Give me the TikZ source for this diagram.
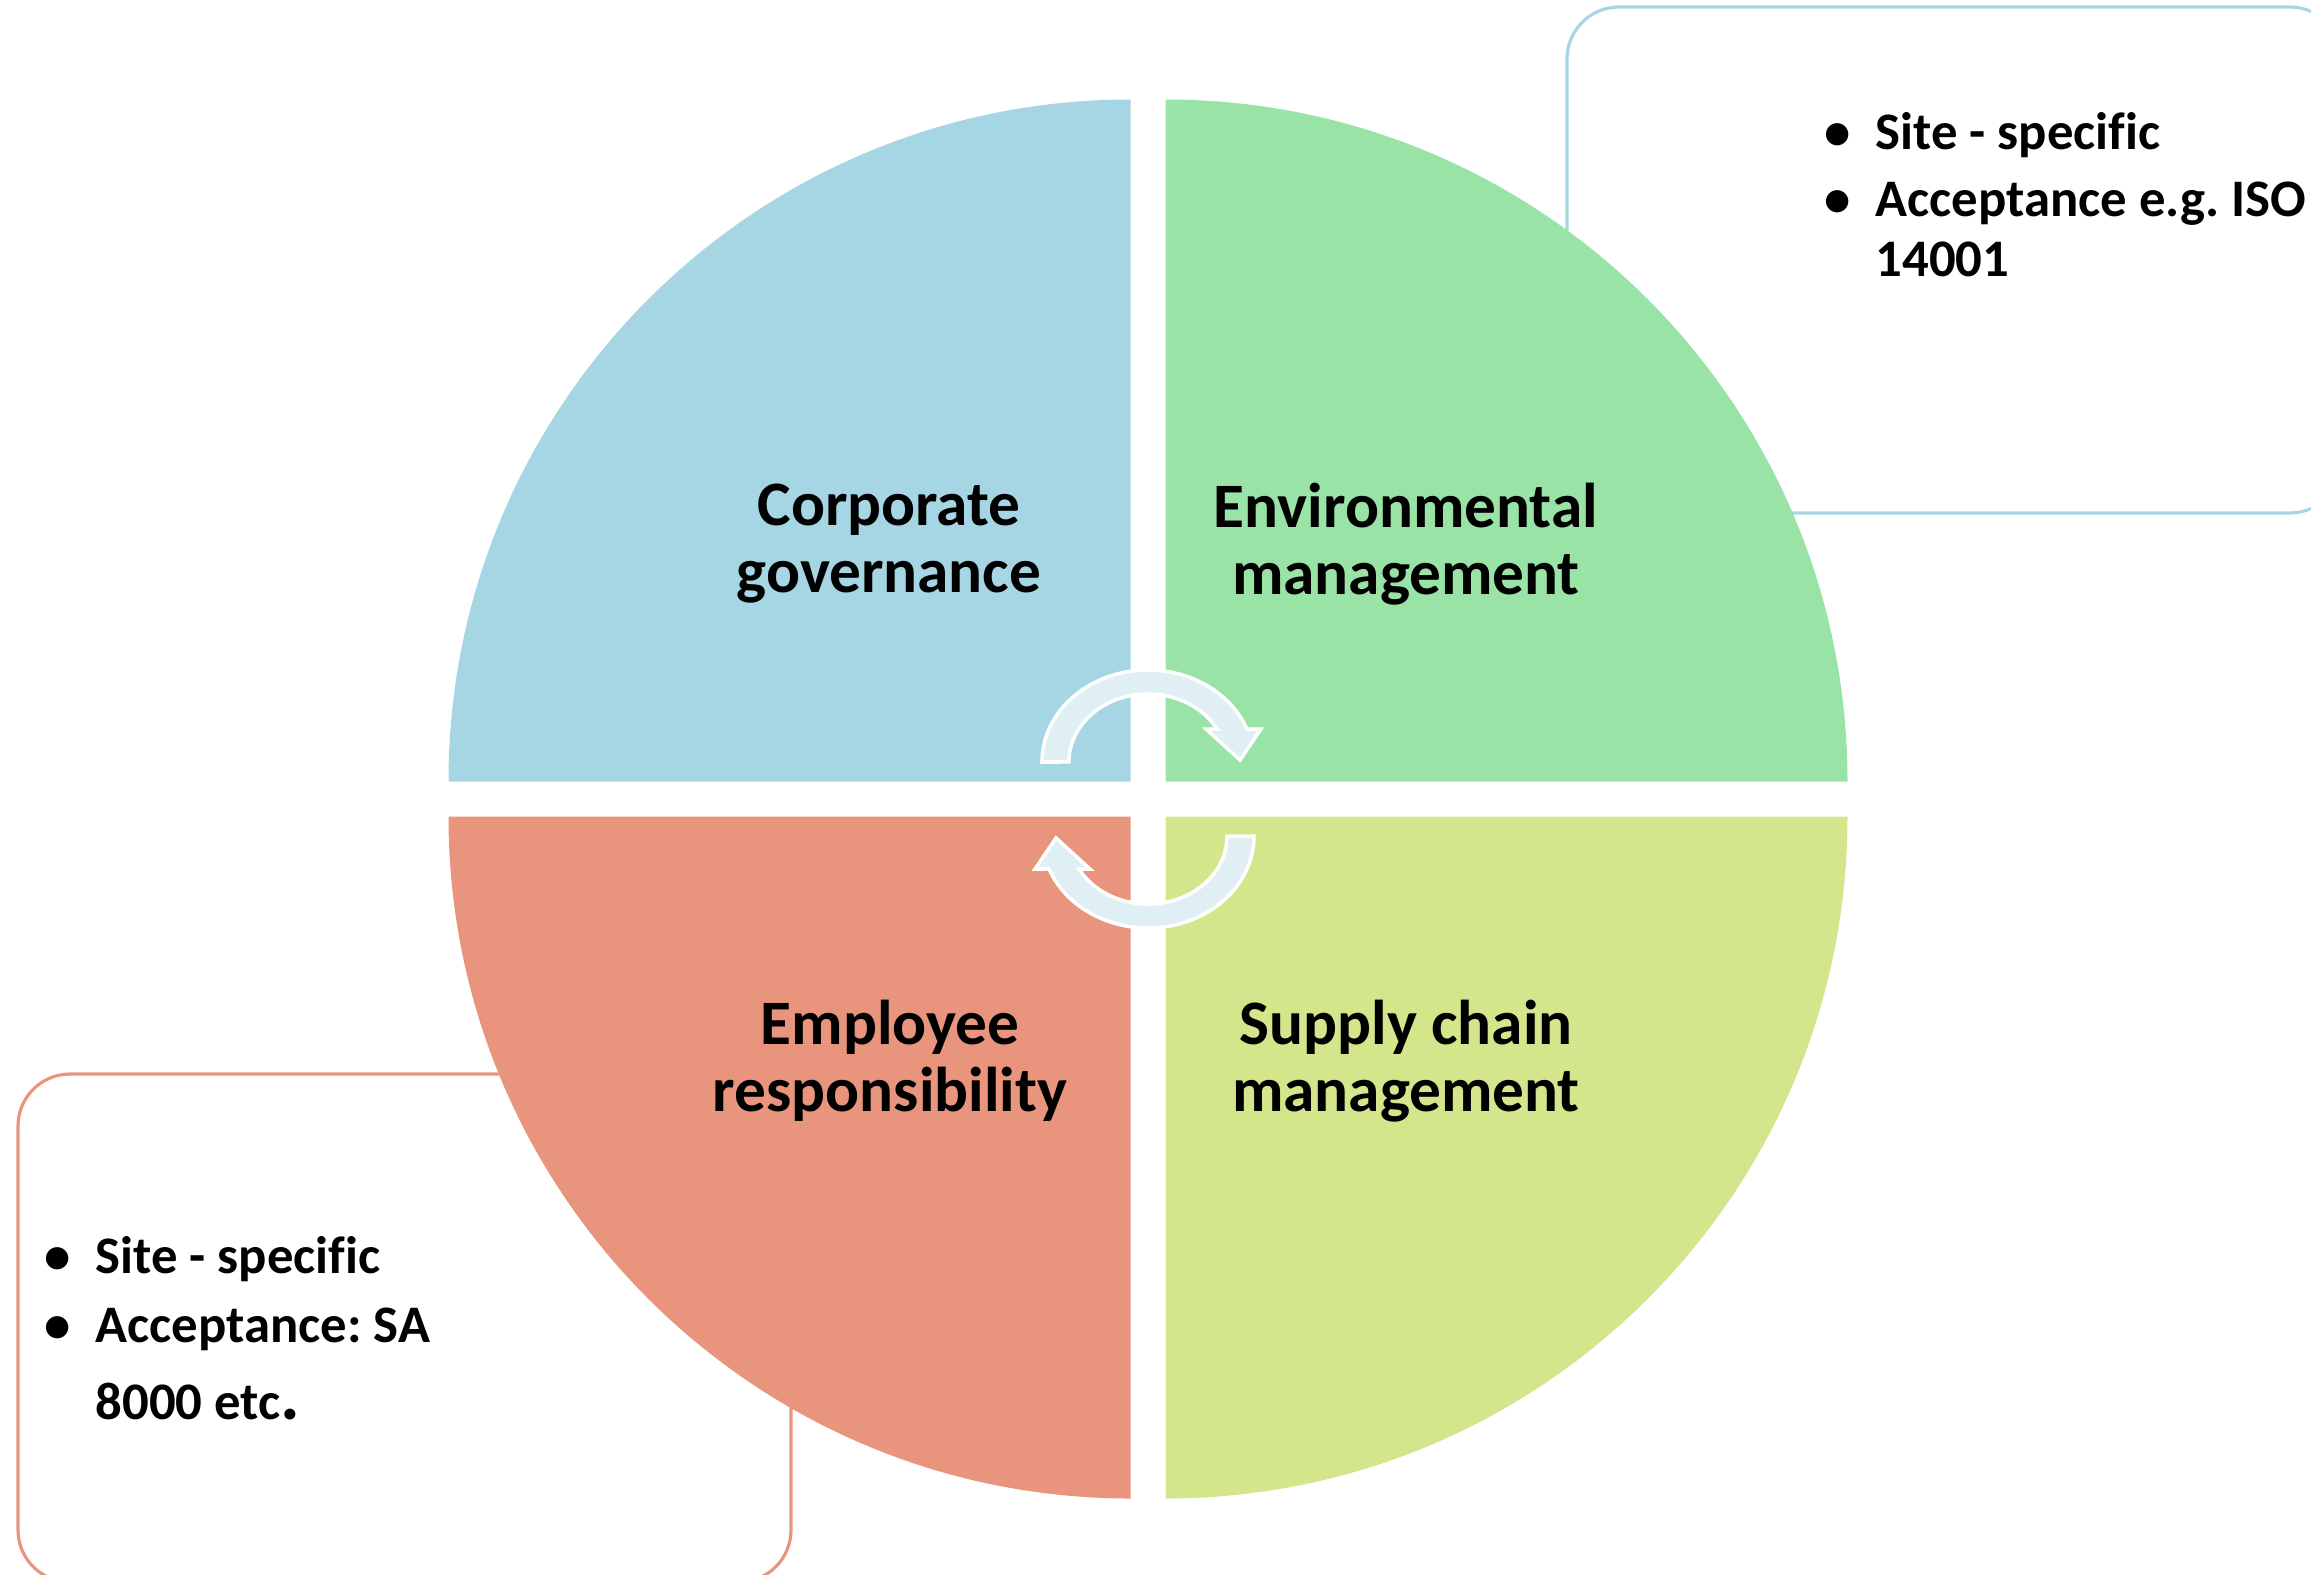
\documentclass[tikz,border=0pt]{standalone}
\usepackage{fontspec}
\setmainfont{Carlito}[Ligatures=NoCommon]
\usetikzlibrary{calc}
\frenchspacing
\definecolor{govblue}{RGB}{166,214,227}
\definecolor{envgreen}{RGB}{153,227,167}
\definecolor{empsalmon}{RGB}{233,149,125}
\definecolor{supgreen}{RGB}{212,230,139}
\definecolor{swirlfill}{RGB}{224,239,244}
\tikzset{
  caption/.style={font=\fontsize{18}{19}\selectfont\bfseries,align=center,inner sep=0},
  point/.style={font=\fontsize{15}{18}\selectfont\bfseries,anchor=base west,inner sep=0},
  dot/.style={font=\fontsize{15}{18}\selectfont\bfseries,anchor=base,inner sep=0},
  note/.style={rounded corners=0.52cm,line width=0.9pt},
  swirl/.style={fill=swirlfill,draw=white,line width=1pt}
}
\begin{document}
\begin{tikzpicture}[x=0.01cm,y=0.01cm]
  \useasboundingbox (0,0) rectangle (2311,-1575);
  \draw[note,draw=govblue] (1567,-7) rectangle (2342,-513);
  \draw[note,draw=empsalmon] (18,-1074) rectangle (791,-1582);
  \coordinate (hub) at (1148,-799);
  \foreach \a/\col [evaluate=\a as \diag using \a+45] in {0/envgreen,90/govblue,180/empsalmon,270/supgreen}
    \fill[\col] ($(hub)+(\diag:24.75)$) -- ++(\a:682) arc[start angle=\a,end angle=\a+90,radius=682] -- cycle;
  \foreach \r in {0,180}
    \draw[swirl,rotate around={\r:(hub)}] (1042,-762) arc[start angle=180,end angle=21,x radius=106,y radius=92]
      -- (1261,-729) -- (1240,-760) -- (1206,-729) -- (1217,-729)
      arc[start angle=29,end angle=180,x radius=79,y radius=68] -- cycle;
  \node[caption] (gov) at (889,-544) {Corporate\\governance};
  \node[caption] (env) at (1406,-544) {Environmental\\management};
  \node[caption] (emp) at (890,-1061) {Employee\\responsibility};
  \node[caption] (sup) at (1406,-1061) {Supply chain\\management};
  \node[point] (isoa) at (1875,-149) {Site - specific};
  \node[point] (isob) at (1875,-216) {Acceptance e.g. ISO};
  \node[point] (isoc) at (1875,-276) {14001};
  \node[dot] (isoadot) at (1838,-149) {•};
  \node[dot] (isobdot) at (1838,-216) {•};
  \node[point] (saa) at (95,-1273) {Site - specific};
  \node[point] (sab) at (95,-1342) {Acceptance: SA};
  \node[point] (sac) at (95,-1419) {8000 etc{\fontsize{21}{21}\selectfont.}};
  \node[dot] (saadot) at (58,-1273) {•};
  \node[dot] (sabdot) at (58,-1342) {•};
\end{tikzpicture}
\end{document}
